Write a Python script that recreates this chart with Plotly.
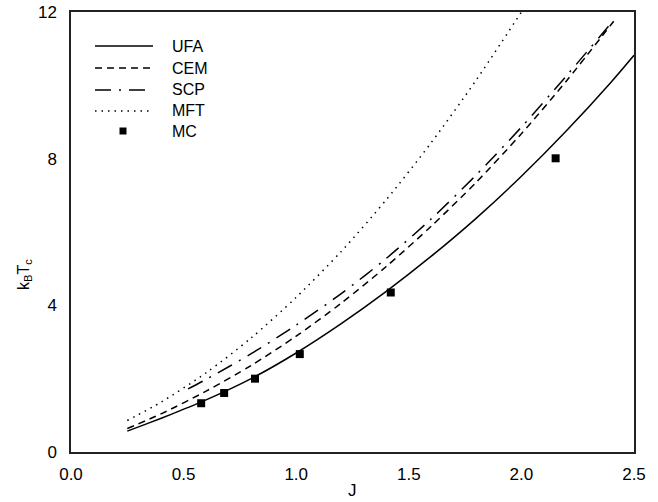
import plotly.graph_objects as go

# UFA (solid)
ufa_J = [0.25, 0.35, 0.45, 0.6, 0.8, 1.0, 1.2, 1.4, 1.6, 1.8, 2.0, 2.2, 2.4, 2.5]
ufa_T = [0.57, 0.80, 1.04, 1.42, 2.00, 2.70, 3.50, 4.38, 5.34, 6.38, 7.52, 8.76, 10.10, 10.82]
# CEM (dashed)
cem_J = [0.25, 0.4, 0.6, 0.8, 1.0, 1.2, 1.4, 1.6, 1.8, 2.0, 2.2, 2.41]
cem_T = [0.64, 1.04, 1.66, 2.36, 3.16, 4.06, 5.06, 6.16, 7.36, 8.68, 10.12, 11.75]
# SCP (dash-dot)
scp_J = [0.52, 0.6, 0.8, 1.0, 1.2, 1.4, 1.6, 1.8, 2.0, 2.2, 2.41]
scp_T = [1.72, 1.98, 2.68, 3.46, 4.32, 5.28, 6.36, 7.56, 8.86, 10.26, 11.78]
# MFT (dotted)
mft_J = [0.25, 0.4, 0.6, 0.8, 1.0, 1.2, 1.4, 1.6, 1.8, 2.0]
mft_T = [0.86, 1.36, 2.16, 3.11, 4.22, 5.47, 6.88, 8.44, 10.15, 12.0]
# MC (squares)
mc_J = [0.578, 0.68, 0.817, 1.016, 1.42, 2.152]
mc_T = [1.33, 1.61, 2.00, 2.67, 4.35, 8.01]

x_ticks = [0.0, 0.5, 1.0, 1.5, 2.0, 2.5]
x_labels = ["0.0", "0.5", "1.0", "1.5", "2.0", "2.5"]
y_ticks = [0, 4, 8, 12]

legend_names = ["UFA", "CEM", "SCP", "MFT", "MC"]
legend_dashes = ["solid", "7px,5px", "16px,8px,2px,8px", "1.5px,5px", None]

FONT = "Liberation Sans, Arial, sans-serif"
lw = 1.5

fig = go.Figure()
fig.add_trace(go.Scatter(x=ufa_J, y=ufa_T, mode="lines", name="UFA",
                         line=dict(color="black", width=lw, shape="spline", smoothing=0.8)))
fig.add_trace(go.Scatter(x=cem_J, y=cem_T, mode="lines", name="CEM",
                         line=dict(color="black", width=lw, dash=legend_dashes[1], shape="spline", smoothing=0.8)))
fig.add_trace(go.Scatter(x=scp_J, y=scp_T, mode="lines", name="SCP",
                         line=dict(color="black", width=lw, dash=legend_dashes[2], shape="spline", smoothing=0.8)))
fig.add_trace(go.Scatter(x=mft_J, y=mft_T, mode="lines", name="MFT",
                         line=dict(color="black", width=lw, dash=legend_dashes[3], shape="spline", smoothing=0.8)))
fig.add_trace(go.Scatter(x=mc_J, y=mc_T, mode="markers", name="MC",
                         marker=dict(symbol="square", size=8, color="black")))

# Manual legend and axis titles (plot-area domain coordinates)
L, R, T, B = 71, 634, 12, 452
def px(x):
    return (x - L) / (R - L)
def py(y):
    return (B - y) / (B - T)

row_y = [46, 68, 90, 111, 131]
shapes = []
annotations = []
for name, dash, yy in zip(legend_names, legend_dashes, row_y):
    if dash is not None:
        shapes.append(dict(type="line", xref="paper", yref="paper",
                           x0=px(95), x1=px(153), y0=py(yy), y1=py(yy),
                           line=dict(color="black", width=lw, dash=dash)))
    else:
        shapes.append(dict(type="rect", xref="paper", yref="paper",
                           x0=px(119.5), x1=px(126.5), y0=py(yy + 3.5), y1=py(yy - 3.5),
                           fillcolor="black", line=dict(width=0)))
    annotations.append(dict(text=name, xref="paper", yref="paper", x=px(170), y=py(yy),
                            xanchor="left", yanchor="middle", showarrow=False,
                            font=dict(family=FONT, size=16, color="black")))

annotations.append(dict(text="J", xref="paper", yref="paper", x=px(352), y=py(490),
                        xanchor="center", yanchor="middle", showarrow=False,
                        font=dict(family=FONT, size=17, color="black")))
annotations.append(dict(text="k<sub>B</sub>T<sub>c</sub>", xref="paper", yref="paper",
                        x=px(24), y=py(275), textangle=-90,
                        xanchor="center", yanchor="middle", showarrow=False,
                        font=dict(family=FONT, size=16, color="black")))

axis_common = dict(showgrid=False, zeroline=False, showline=True, mirror=True,
                   linecolor="#222", linewidth=1.5, ticks="", automargin=False,
                   tickfont=dict(family=FONT, size=17, color="black"))

fig.update_layout(
    width=658, height=502,
    margin=dict(l=71, r=24, t=12, b=50),
    paper_bgcolor="white", plot_bgcolor="white",
    font=dict(family=FONT, color="black"),
    xaxis=dict(range=[0, 2.5], tickvals=x_ticks, ticktext=x_labels, ticklabelstandoff=6,
               **axis_common),
    yaxis=dict(range=[0, 12], tickvals=y_ticks, ticklabelstandoff=9,
               **axis_common),
    shapes=shapes,
    annotations=annotations,
    showlegend=False,
)

fig.write_html("out.html", config={"displayModeBar": False},
               post_script="document.body.style.margin='0px';document.body.style.overflow='hidden';")
